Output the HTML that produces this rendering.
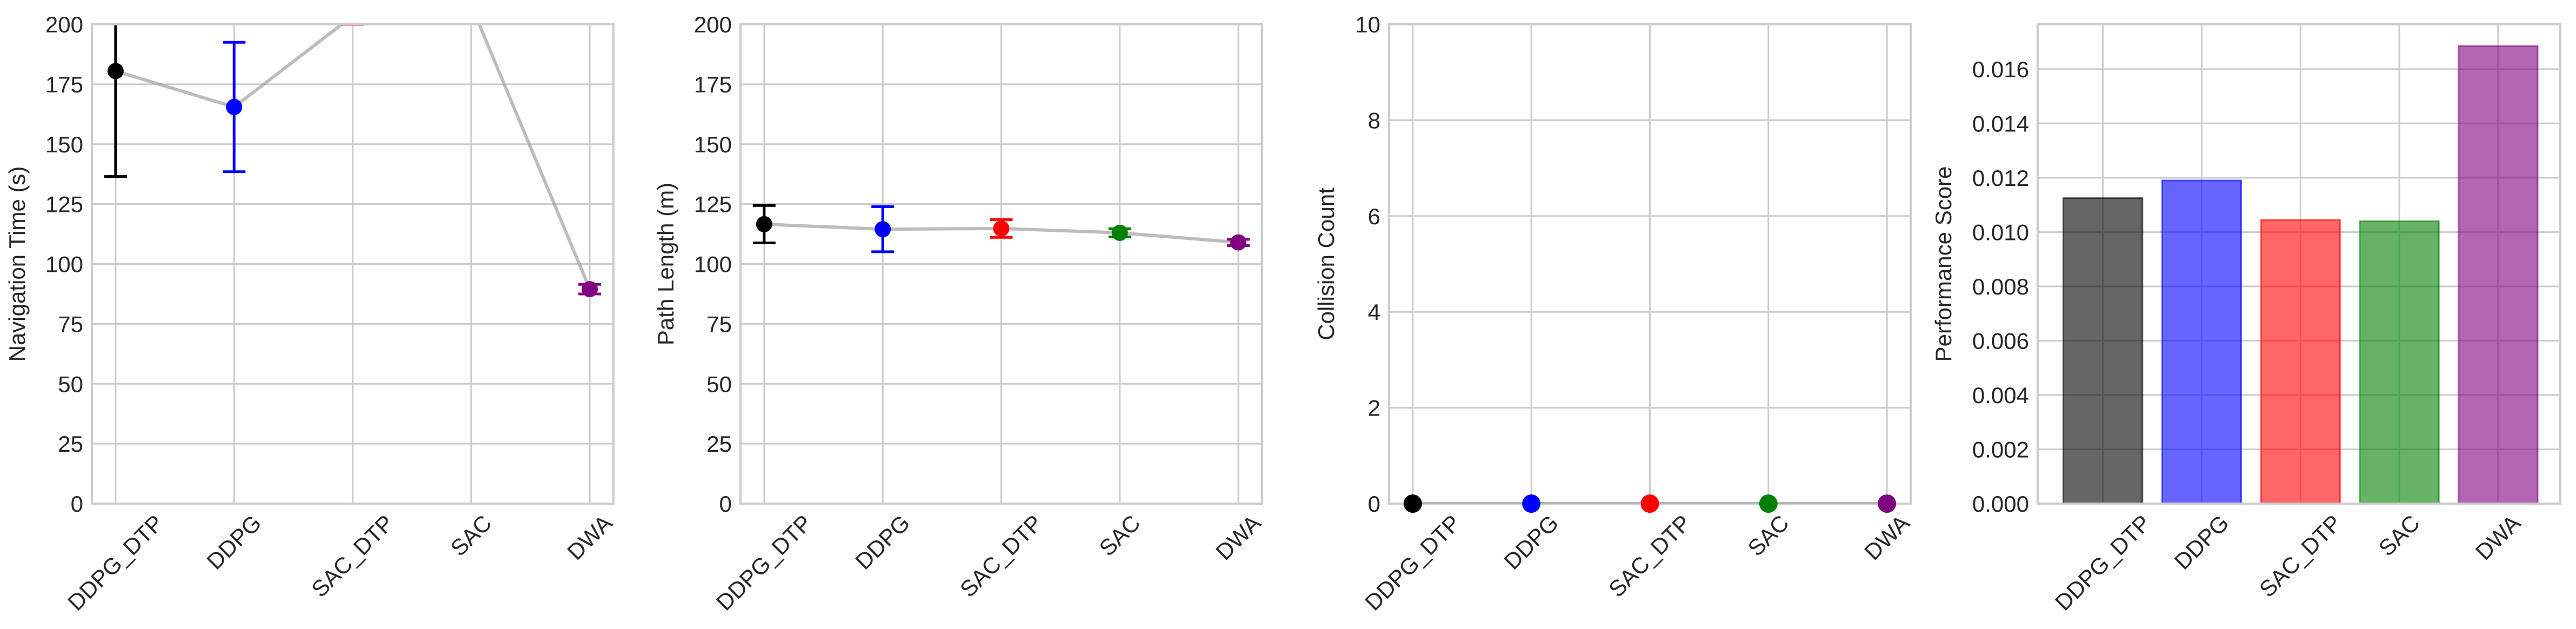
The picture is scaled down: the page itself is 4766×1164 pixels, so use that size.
<!DOCTYPE html>
<html><head><meta charset="utf-8"><style>
html,body{margin:0;padding:0;background:#fff;}
svg{display:block;font-family:"Liberation Sans",Arial,sans-serif;}
</style></head><body>
<svg id="fig" width="4766" height="1164" viewBox="0 0 4766 1164" xmlns="http://www.w3.org/2000/svg"></svg>
<script>
const categories = ["DDPG_DTP","DDPG","SAC_DTP","SAC","DWA"];
const colors = ["black","blue","red","green","purple"];
const navMeans = [180.5, 165.5, 203.5, 208, 89.5];
const navErrs = [44, 27, 3.5, 3, 2];
const pathMeans = [116.6, 114.5, 114.8, 113, 109];
const pathErrs = [7.8, 9.4, 3.7, 1.7, 1.3];
const collMeans = [0, 0, 0, 0, 0];
const collErrs = [0, 0, 0, 0, 0];
const perfScores = [0.01125, 0.0119, 0.01045, 0.0104, 0.01685];
const navTicks = [0,25,50,75,100,125,150,175,200];
const pathTicks = [0,25,50,75,100,125,150,175,200];
const collTicks = [0,2,4,6,8,10];
const perfTicks = [0,0.002,0.004,0.006,0.008,0.010,0.012,0.014,0.016];

const NS = "http://www.w3.org/2000/svg";
const svg = document.getElementById('fig');
function mk(tag, attrs, parent){ const e=document.createElementNS(NS,tag); for(const k in attrs) e.setAttribute(k,attrs[k]); (parent||svg).appendChild(e); return e; }
const TOP=45, BOT=932;

function panel(idx, left, right, ymin, ymax, ticks, tickFmt, ylabel, labelX, xmin, xmax){
  const g = mk('g',{});
  
  
  const xs = v => left + (v - xmin)/(xmax - xmin)*(right-left);
  const ys = v => BOT - (v - ymin)/(ymax - ymin)*(BOT-TOP);
  const clipId='clip'+idx;
  const cp = mk('clipPath',{id:clipId},g); mk('rect',{x:left,y:TOP,width:right-left,height:BOT-TOP},cp);
  ticks.forEach(t=>{
    const y=ys(t);
    const l=mk('line',{x1:left,x2:right,y1:y,y2:y,stroke:'#cccccc','stroke-width':3},g);
    
    
    const tx=mk('text',{x:left-16,y:y+15,'text-anchor':'end','font-size':42,fill:'#262626'},g);
    tx.textContent=tickFmt(t);
    
    
  });
  categories.forEach((c,i)=>{
    const x=xs(i);
    const l=mk('line',{x1:x,x2:x,y1:TOP,y2:BOT,stroke:'#cccccc','stroke-width':3},g);
    
    
    const tx=mk('text',{x:0,y:14,'text-anchor':'middle','font-size':42,fill:'#262626'},g);
    tx.textContent=c;
    
    
    const w=tx.getComputedTextLength ? tx.getComputedTextLength() : c.length*26;
    const half=(w+36)*0.7071/2;
    tx.setAttribute('transform',`translate(${x},${BOT+16+half}) rotate(-45)`);
  });
  const yl=mk('text',{x:0,y:0,'text-anchor':'middle','font-size':42,fill:'#262626',transform:`translate(${labelX},${(TOP+BOT)/2}) rotate(-90)`},g);
  yl.textContent=ylabel;
  
  
  return {g,xs,ys,clipId,left,right};
}
function frame(p){
  const r=mk('rect',{x:p.left,y:TOP,width:p.right-p.left,height:BOT-TOP,fill:'none',stroke:'#cccccc','stroke-width':4},p.g);
  
  
}
function errPanel(p, means, errs, clipMarkers){
  const cg=mk('g',{'clip-path':`url(#${p.clipId})`},p.g);
  const pts=means.map((m,i)=>p.xs(i)+','+p.ys(m)).join(' ');
  const pl=mk('polyline',{points:pts,fill:'none',stroke:'#a0a0a0','stroke-opacity':0.7,'stroke-width':6},cg);
  
  
  means.forEach((m,i)=>{
    const x=p.xs(i), c=colors[i];
    const eg=mk('g',{},cg);
    
    
    if(errs[i]>0){
      const y1=p.ys(m-errs[i]), y2=p.ys(m+errs[i]);
      mk('line',{x1:x,x2:x,y1:y1,y2:y2,stroke:c,'stroke-width':5},eg);
      mk('line',{x1:x-21,x2:x+21,y1:y1,y2:y1,stroke:c,'stroke-width':5},eg);
      mk('line',{x1:x-21,x2:x+21,y1:y2,y2:y2,stroke:c,'stroke-width':5},eg);
    }
    const pt=mk('circle',{cx:x,cy:p.ys(m),r:clipMarkers?15:17,fill:c},clipMarkers?cg:p.g);
    
    
  });
}

const p1=panel(1,170,1135,0,200,navTicks,t=>String(t),'Navigation Time (s)',46,-0.2,4.2);
errPanel(p1,navMeans,navErrs,true); frame(p1);
const p2=panel(2,1370,2335,0,200,pathTicks,t=>String(t),'Path Length (m)',1246,-0.2,4.2);
errPanel(p2,pathMeans,pathErrs,true); frame(p2);
const p3=panel(3,2570,3535,0,10,collTicks,t=>String(t),'Collision Count',2468,-0.2,4.2);
frame(p3); errPanel(p3,collMeans,collErrs,false);
const p4=panel(4,3770,4737,0,0.01765,perfTicks,t=>t.toFixed(3),'Performance Score',3610,-0.66,4.63);
const bw=0.8;
perfScores.forEach((v,i)=>{
  const x0=p4.xs(i-bw/2), x1=p4.xs(i+bw/2);
  const b=mk('rect',{x:x0,y:p4.ys(v),width:x1-x0,height:p4.ys(0)-p4.ys(v),fill:colors[i],'fill-opacity':0.6,stroke:colors[i],'stroke-opacity':0.6,'stroke-width':3},p4.g);
  
  
});
frame(p4);
</script>
</body></html>
